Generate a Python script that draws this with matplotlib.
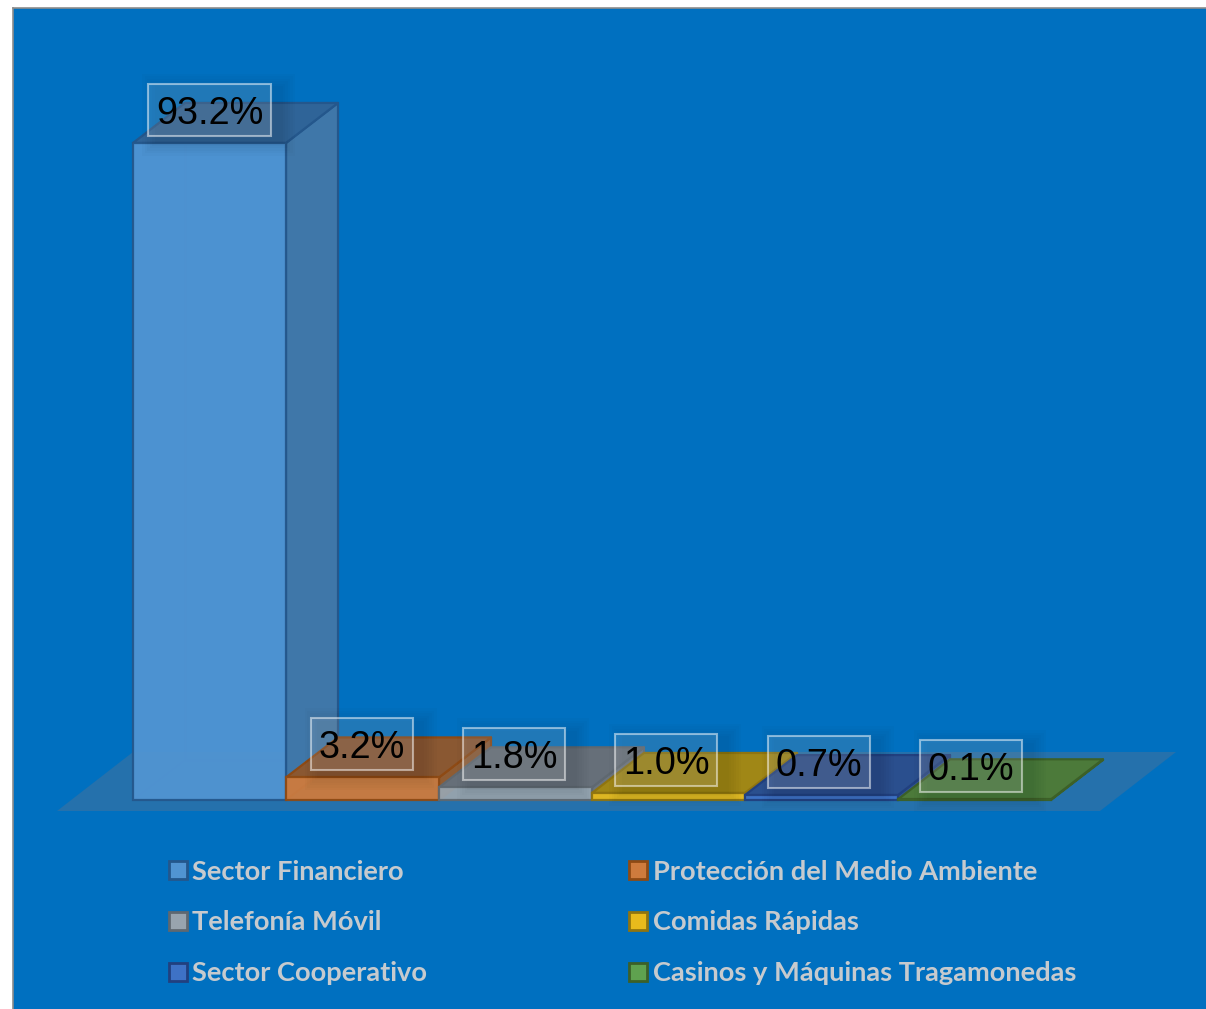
import matplotlib
matplotlib.use("Agg")
import matplotlib.pyplot as plt
from matplotlib.patches import Patch, Rectangle

categories = ["Sector Financiero", "Protección del Medio Ambiente", "Telefonía Móvil",
              "Comidas Rápidas", "Sector Cooperativo", "Casinos y Máquinas Tragamonedas"]
values = [93.2, 3.2, 1.8, 1.0, 0.7, 0.1]

front_colors = ["#5194D2", "#CE7B3D", "#98A4AE", "#E8BA1C", "#3E72C6", "#5FA24F"]
top_colors = ["#2F6498", "#8A5832", "#666F79", "#A08716", "#2A4F8E", "#4C7A3A"]
side_colors = ["#3F77A9", "#8F5C33", "#6B747E", "#A38A18", "#2D5394", "#4C7A3A"]
edge_colors = ["#24578C", "#8E4A14", "#5F6870", "#8F7410", "#21407F", "#3C6028"]

BLUE = "#0070C0"
FLOOR = "#2571AC"
PX_X = 153.0    # pixels for one category
PX_Y = 7.05     # pixels for one percent
DX = 52 / PX_X  # depth of the 3d bars
DY = 40 / PX_Y

fig = plt.figure(figsize=(12.06, 10.09), dpi=100, facecolor="white")
ax = fig.add_axes([13 / 1206, 0, 1193 / 1206, 1001 / 1009])
ax.set_facecolor(BLUE)
ax.set_xlim((13 - 133) / PX_X, (1206 - 133) / PX_X)
ax.set_ylim(-(1009 - 800) / PX_Y, (800 - 8) / PX_Y)
ax.set_xticks([])
ax.set_yticks([])
for side in ["right", "bottom"]:
    ax.spines[side].set_visible(False)
for side in ["left", "top"]:
    ax.spines[side].set_color("#8C8C8C")
    ax.spines[side].set_linewidth(1.2)

# floor
n = len(values)
fy = -11 / PX_Y
by = 48 / PX_Y
ax.fill([-76 / PX_X, n + 49 / PX_X, n + 125 / PX_X, 0],
        [fy, fy, by, by],
        color=FLOOR, lw=0, zorder=1)

# bars, left to right so the next one covers the previous side face
for i, v in enumerate(values):
    z = 2 + i
    ec = edge_colors[i]
    # hidden back edges that show faintly through the front
    ax.plot([i + DX, i + DX], [DY, v + DY], color=ec, lw=1, alpha=0.25, zorder=z)
    ax.plot([i + DX, i + 1 + DX], [DY, DY], color=ec, lw=1, alpha=0.25, zorder=z)
    ax.plot([i, i + DX], [0, DY], color=ec, lw=1, alpha=0.25, zorder=z)
    ax.fill([i + 1, i + 1 + DX, i + 1 + DX, i + 1], [0, DY, v + DY, v],
            facecolor=side_colors[i], edgecolor=ec, lw=1.6, zorder=z, joinstyle="round")
    ax.fill([i, i + 1, i + 1 + DX, i + DX], [v, v, v + DY, v + DY],
            facecolor=top_colors[i], edgecolor=ec, lw=1.6, zorder=z, joinstyle="round")
    ax.bar(i, v, width=1, align="edge", color=front_colors[i], edgecolor=ec,
           lw=1.6, alpha=0.95, zorder=z + 0.1)

# value labels with translucent box and soft shadow
LIFT = 33 / PX_Y
for i, v in enumerate(values):
    txt = f"{v:.1f}%"
    w = (123 if v >= 10 else 102) / PX_X
    h = 52 / PX_Y
    cx, cy = i + 0.5 - i * 0.7 / PX_X, v + LIFT
    for k in range(6):
        g = (6 - k) * 2.5
        ax.add_patch(Rectangle((cx - w / 2 - g / PX_X + 9 / PX_X, cy - h / 2 - g / PX_Y - 5 / PX_Y),
                               w + 2 * g / PX_X, h + 2 * g / PX_Y,
                               facecolor="black", edgecolor="none", alpha=0.015, zorder=20))
    ax.add_patch(Rectangle((cx - w / 2, cy - h / 2), w, h, facecolor=(1, 1, 1, 0.13),
                           edgecolor=(1, 1, 1, 0.5), lw=1.5, zorder=21))
    ax.text(cx, cy, txt, ha="center", va="center_baseline", fontsize=27.3, color="black",
            family="Liberation Sans", zorder=22)

# legend fills by column, reference reads by row
order = [0, 2, 4, 1, 3, 5]
handles = [Patch(facecolor=front_colors[j], edgecolor=edge_colors[j], lw=2,
                 label=categories[j]) for j in order]
leg = ax.legend(handles=handles, ncol=2, loc="upper left",
                bbox_to_anchor=((168.5 - 13) / 1193, (1001 - (859.5 - 8)) / 1001),
                frameon=False, borderpad=0, borderaxespad=0,
                handlelength=0.68, handleheight=0.68, handletextpad=0.2, columnspacing=7.4,
                labelspacing=0.99, prop={"family": "Lato", "weight": "bold", "size": 19.6})
for t in leg.get_texts():
    t.set_color("#C6CACE")
leg.set_zorder(30)

fig.savefig("out.png", dpi=100, facecolor="white")
